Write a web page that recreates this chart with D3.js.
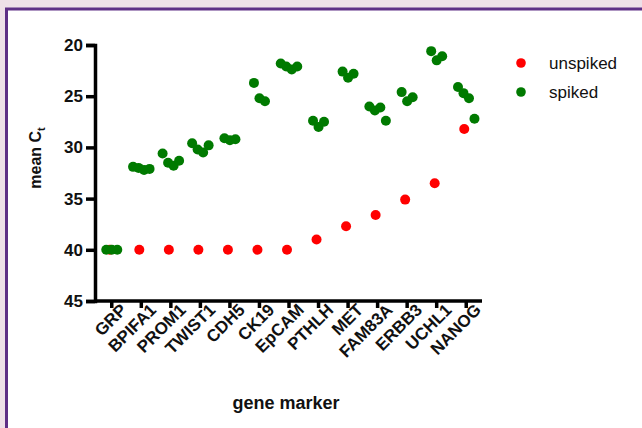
<!DOCTYPE html>
<html>
<head>
<meta charset="utf-8">
<script src="https://cdn.jsdelivr.net/npm/d3@7"></script>
<style>
  html, body { margin: 0; padding: 0; background: #eee0e8; }
  svg { display: block; font-family: 'Liberation Sans', Arial, sans-serif; }
</style>
</head>
<body>
<svg id="chart" width="642" height="428"></svg>
<script>
// gene markers along x
const genes = ['GRP', 'BPIFA1', 'PROM1', 'TWIST1', 'CDH5', 'CK19', 'EpCAM',
  'PTHLH', 'MET', 'FAM83A', 'ERBB3', 'UCHL1', 'NANOG'];

// mean Ct, unspiked samples (one per gene)
const unspiked = [40, 40, 40, 40, 40, 40, 40, 39.0, 37.7, 36.6, 35.1, 33.5, 28.2];

// mean Ct, spiked replicates per gene
const spiked = [
  [40, 40, 40],
  [31.9, 32.0, 32.2, 32.1],
  [30.6, 31.5, 31.8, 31.3],
  [29.6, 30.2, 30.5, 29.8],
  [29.1, 29.3, 29.2],
  [23.7, 25.2, 25.5],
  [21.8, 22.1, 22.4, 22.1],
  [27.4, 28.0, 27.5],
  [22.6, 23.2, 22.8],
  [26.0, 26.4, 26.1, 27.4],
  [24.6, 25.5, 25.1],
  [20.6, 21.5, 21.1],
  [24.1, 24.7, 25.2, 27.2]
];

const yTicks = [20, 25, 30, 35, 40, 45];

const svg = d3.select('#chart');

// white panel with purple frame
svg.append('rect')
  .attr('x', 6.5)
  .attr('y', 9)
  .attr('width', 660)
  .attr('height', 440)
  .attr('fill', '#fff')
  .attr('stroke', '#5e2f86')
  .attr('stroke-width', 3);

const x = d3.scaleBand()
  .domain(genes)
  .range([97, 481]);

const y = d3.scaleLinear()
  .domain([20, 45])
  .range([45, 301]);

const yAxis = svg.append('g')
  .attr('transform', 'translate(95,0)')
  .call(d3.axisLeft(y).tickValues(yTicks).tickSize(9).tickPadding(3));

const xAxis = svg.append('g')
  .attr('transform', 'translate(0,301)')
  .call(d3.axisBottom(x).tickSize(7).tickPadding(2).tickSizeOuter(0));

xAxis.select('.domain').attr('d', 'M94,0H482');

[yAxis, xAxis].forEach((g) => {
  g.attr('font-size', null).attr('font-family', null);
  g.selectAll('.domain, .tick line')
    .attr('stroke', '#000')
    .attr('stroke-width', 3.5);
  g.selectAll('text')
    .attr('fill', '#111')
    .attr('font-size', 17)
    .attr('font-weight', 'bold');
});

xAxis.selectAll('.tick text')
  .attr('text-anchor', 'end')
  .attr('dx', '0.25em')
  .attr('dy', '0.55em')
  .attr('transform', 'rotate(-45)');

// unspiked points
svg.append('g')
  .selectAll('circle')
  .data(unspiked)
  .join('circle')
  .attr('cx', (d, i) => x(genes[i]) + x.bandwidth() / 2 - 2)
  .attr('cy', (d) => y(d))
  .attr('r', 5)
  .attr('fill', '#ff0000');

// spiked replicates, spread sideways within the band
const spikedPoints = [];
spiked.forEach((vals, i) => {
  vals.forEach((v, j) => {
    spikedPoints.push({ gene: genes[i], value: v, k: j - (vals.length - 1) / 2 });
  });
});

svg.append('g')
  .selectAll('circle')
  .data(spikedPoints)
  .join('circle')
  .attr('cx', (d) => x(d.gene) + x.bandwidth() / 2 + d.k * 5.5)
  .attr('cy', (d) => y(d.value))
  .attr('r', 5)
  .attr('fill', '#007a00');

// axis titles
svg.append('text')
  .attr('x', 286)
  .attr('y', 409)
  .attr('text-anchor', 'middle')
  .attr('font-size', 18)
  .attr('font-weight', 'bold')
  .attr('fill', '#111')
  .text('gene marker');

const yTitle = svg.append('text')
  .attr('transform', 'translate(41,158) rotate(-90)')
  .attr('text-anchor', 'middle')
  .attr('font-size', 16)
  .attr('font-weight', 'bold')
  .attr('fill', '#111');
yTitle.append('tspan').text('mean C');
yTitle.append('tspan')
  .attr('font-size', 11)
  .attr('dy', 4)
  .text('t');

// legend
const legend = [['unspiked', '#ff0000'], ['spiked', '#007a00']];
const lg = svg.append('g')
  .selectAll('g')
  .data(legend)
  .join('g')
  .attr('transform', (d, i) => `translate(521,${63 + i * 29})`);
lg.append('circle')
  .attr('r', 4.8)
  .attr('fill', (d) => d[1]);
lg.append('text')
  .attr('x', 28)
  .attr('dy', '0.35em')
  .attr('font-size', 17)
  .attr('fill', '#111')
  .text((d) => d[0]);
</script>
</body>
</html>
